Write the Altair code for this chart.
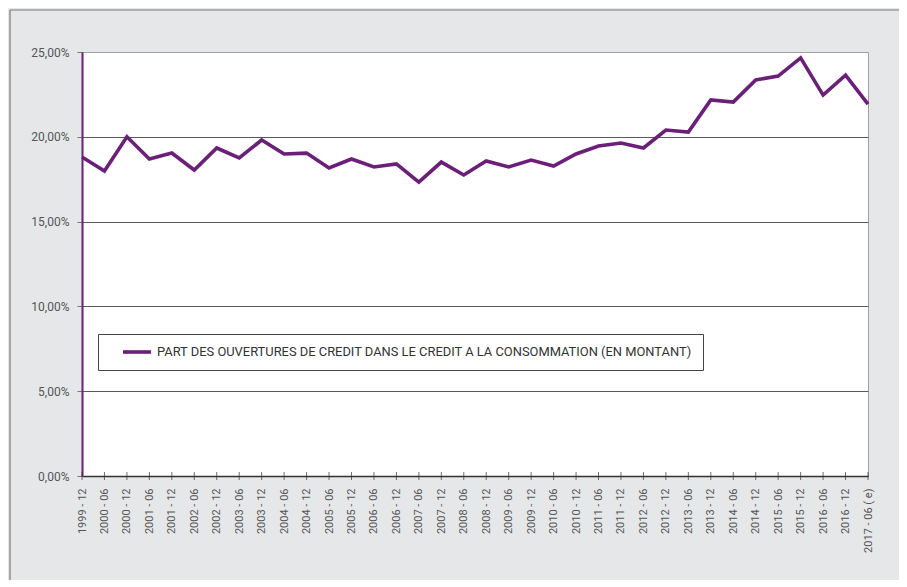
import altair as alt
import pandas as pd

categories = [
    "1999 - 12",
    "2000 - 06", "2000 - 12", "2001 - 06", "2001 - 12", "2002 - 06", "2002 - 12",
    "2003 - 06", "2003 - 12", "2004 - 06", "2004 - 12", "2005 - 06", "2005 - 12",
    "2006 - 06", "2006 - 12", "2007 - 06", "2007 - 12", "2008 - 06", "2008 - 12",
    "2009 - 06", "2009 - 12", "2010 - 06", "2010 - 12", "2011 - 06", "2011 - 12",
    "2012 - 06", "2012 - 12", "2013 - 06", "2013 - 12", "2014 - 06", "2014 - 12",
    "2015 - 06", "2015 - 12", "2016 - 06", "2016 - 12", "2017 - 06 ( e)",
]
values = [
    18.81,
    17.98, 20.00, 18.69, 19.04, 18.04, 19.34,
    18.75, 19.81, 18.99, 19.04, 18.16, 18.69,
    18.22, 18.40, 17.33, 18.51, 17.75, 18.57,
    18.22, 18.63, 18.28, 18.99, 19.46, 19.63,
    19.34, 20.40, 20.28, 22.17, 22.05, 23.35,
    23.58, 24.65, 22.46, 23.64, 21.93,
]
series_name = "PART DES OUVERTURES DE CREDIT DANS LE CREDIT A LA CONSOMMATION (EN MONTANT)"
y_ticks = [0, 5, 10, 15, 20, 25]

df = pd.DataFrame({"periode": categories, "part": values, "serie": [series_name] * len(categories)})

PURPLE = "#6b1f78"
FONT = "Roboto"
W, H = 786, 424

x_enc = alt.X(
    "periode:O",
    sort=categories,
    scale=alt.Scale(type="point", padding=0),
    axis=alt.Axis(
        title=None,
        labelAngle=270,
        labelFont=FONT,
        labelFontSize=11,
        labelColor="#555555",
        labelPadding=12,
        ticks=False,
        domainColor="#333333",
        domainWidth=1.5,
        grid=False,
        labelOverlap=False,
    ),
)

line = alt.Chart(df).mark_line(strokeWidth=3.6).encode(
    x=x_enc,
    y=alt.Y(
        "part:Q",
        scale=alt.Scale(domain=[0, 25], nice=False, zero=True),
        axis=alt.Axis(
            title=None,
            values=y_ticks,
            labelExpr="replace(format(datum.value, '.2f'), '.', ',') + '%'",
            labelFont=FONT,
            labelFontSize=12,
            labelColor="#555555",
            labelPadding=8,
            tickSize=5,
            tickColor="#777777",
            domainColor=PURPLE,
            domainWidth=2,
            grid=True,
            gridColor={"condition": {"test": "datum.value >= 25", "value": "#a0a0a0"}, "value": "#58595b"},
            gridWidth=1,
        ),
    ),
    color=alt.Color(
        "serie:N",
        scale=alt.Scale(range=[PURPLE]),
        title=None,
        legend=alt.Legend(
            orient="none",
            legendX=16,
            legendY=282,
            direction="vertical",
            symbolType="stroke",
            symbolSize=784,
            symbolStrokeWidth=3.6,
            symbolOffset=12,
            clipHeight=14,
            labelFont=FONT,
            labelFontSize=12.9,
            labelColor="#333333",
            labelOffset=4,
            labelLimit=800,
            padding=11,
            strokeColor="#444444",
            fillColor="white",
        ),
    ),
)

ticks = alt.Chart(df).mark_tick(orient="vertical", size=8, thickness=1, color="#333333").encode(
    x=alt.X("periode:O", sort=categories),
    y=alt.value(H),
)

frame_src = pd.DataFrame({"k": [0]})
frame_top = alt.Chart(frame_src).mark_rule(color="#7a7a7a", strokeWidth=1.2).encode(
    x=alt.value(-72), x2=alt.value(900), y=alt.value(-42)
)
frame_left = alt.Chart(frame_src).mark_rule(color="#7a7a7a", strokeWidth=1.2).encode(
    x=alt.value(-72), y=alt.value(-42), y2=alt.value(700)
)

chart = (
    alt.layer(frame_top, frame_left, line, ticks)
    .properties(
        width=W,
        height=H,
        autosize=alt.AutoSizeParams(type="none"),
        padding={"left": 74, "top": 44, "right": 31, "bottom": 104},
    )
    .configure(background="#e6e7e9")
    .configure_view(fill="white", stroke="#a0a0a0", strokeWidth=1)
)

chart.save("out.html", embed_options={"renderer": "svg", "actions": False})
